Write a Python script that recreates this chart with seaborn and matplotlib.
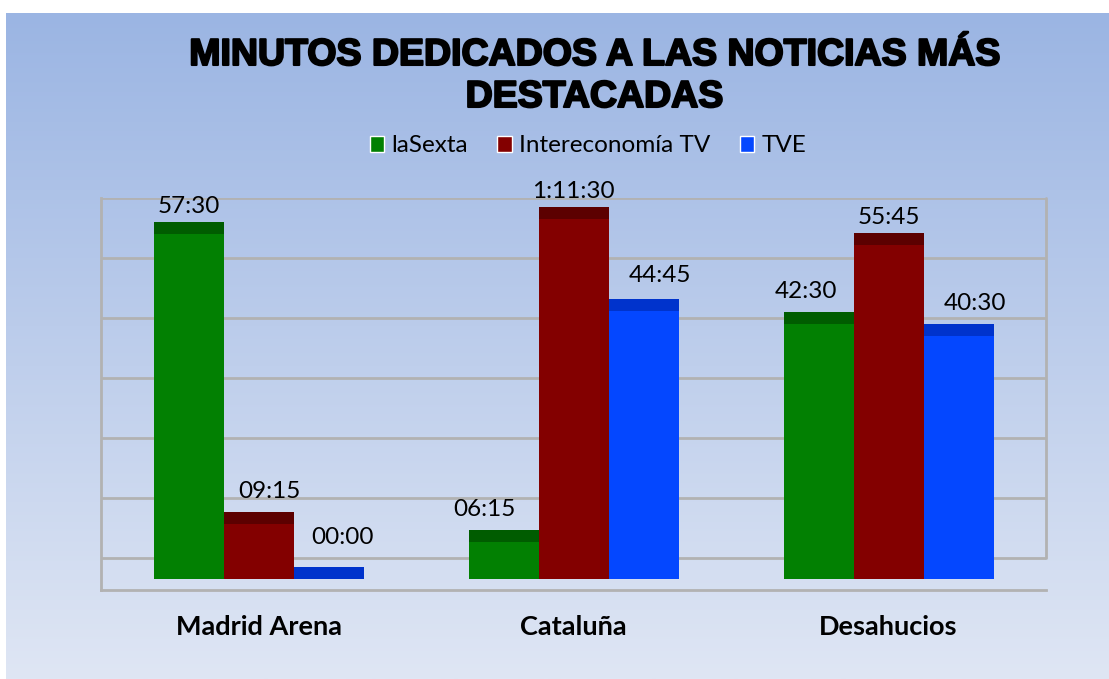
import numpy as np
import pandas as pd
import seaborn as sns
import matplotlib.pyplot as plt
import matplotlib.patheffects as pe
from matplotlib.patches import Patch

# Data: minutes per news topic and channel
categories = ["Madrid Arena", "Cataluña", "Desahucios"]
channels = ["laSexta", "Intereconomía TV", "TVE"]
lasexta = [57.5, 6.25, 42.5]
intereconomia = [9.25, 71.5, 55.75]
tve = [0.0, 44.75, 40.5]
y_max = 60  # axis max in the original chart (1:00:00); taller bars get cut

# Styles
front_colors = ["#028002", "#830000", "#0447ff"]
cap_colors = ["#005c00", "#5c0000", "#0033cc"]
cap_depth = 2.0  # 3D top face, in minutes
# label nudges (px) that mimic Excel's 3D label placement
label_dx = [[0, -19, -13], [11, 0, 0], [14, 16, 16]]
label_dy = [[5, 10, 10], [10, 5, 4], [19, 12, 10]]


def fmt(minutes):
    s = int(round(minutes * 60))
    h, rem = divmod(s, 3600)
    m, sec = divmod(rem, 60)
    if h:
        return f"{h}:{m:02d}:{sec:02d}"
    return f"{m:02d}:{sec:02d}"


series = [lasexta, intereconomia, tve]
df = pd.DataFrame({
    "categoria": categories * 3,
    "canal": np.repeat(channels, 3),
    "minutos": lasexta + intereconomia + tve,
})
df["altura"] = df["minutos"].clip(upper=y_max)

sns.set_style("white")
plt.rcParams["font.family"] = ["Lato", "DejaVu Sans"]
plt.rcParams["text.color"] = "black"
plt.rcParams["xtick.color"] = "black"

W, H = 1109, 679
fig = plt.figure(figsize=(W / 100, H / 100), dpi=100)

# gradient background
bg = fig.add_axes([6 / W, 0, 1 - 6 / W, 666 / H])
top = np.array([0x9b, 0xb5, 0xe3]) / 255
bot = np.array([0xdf, 0xe6, 0xf4]) / 255
t = np.linspace(0, 1, 256)[:, None]
grad = (top * (1 - t) + bot * t)[:, None, :]
bg.imshow(grad, aspect="auto", extent=[0, 1, 0, 1])
bg.axis("off")

ax = fig.add_axes([101 / W, 89 / H, 945 / W, 392 / H])
ax.set_facecolor("none")

sns.barplot(data=df, x="categoria", y="altura", hue="canal",
            order=categories, hue_order=channels, palette=front_colors,
            saturation=1, width=2 / 3, gap=0, errorbar=None,
            linewidth=0, legend=False, ax=ax)

for i, cont in enumerate(list(ax.containers)):
    for j, bar in enumerate(cont):
        x, w, h = bar.get_x(), bar.get_width(), bar.get_height()
        ax.bar(x, cap_depth, bottom=h, width=w, align="edge",
               color=cap_colors[i], linewidth=0)
        ax.annotate(fmt(series[i][j]), (x + w / 2, h + cap_depth),
                    xytext=(label_dx[i][j] * 0.72, label_dy[i][j] * 0.72),
                    textcoords="offset points", ha="center", va="bottom",
                    fontsize=17.5, color="black")

ax.set_xlim(-0.5, 2.5)
ax.set_ylim(-11 / 6, y_max + 3.5)
ax.set_yticks(np.arange(0, y_max + 1, 10) + 3.5)
ax.set_yticklabels([])
ax.grid(axis="y", color="#b2b2b2", lw=2)
ax.set_axisbelow(True)
for s in ["top", "right"]:
    ax.spines[s].set_visible(False)
for s in ["left", "bottom"]:
    ax.spines[s].set_color("#b2b2b2")
    ax.spines[s].set_linewidth(2)
ax.plot([2.5, 2.5], [3.5, y_max + 3.5], color="#b2b2b2", lw=2, clip_on=False)
ax.tick_params(axis="both", length=0)
ax.tick_params(axis="x", pad=18)
ax.set_xlabel("")
ax.set_ylabel("")
for lab in ax.get_xticklabels():
    lab.set_fontweight("bold")
    lab.set_fontsize(19.5)
    lab.set_color("black")

# legend
handles = [Patch(facecolor=c) for c in front_colors]
fig.legend(handles, channels, loc="center", ncol=3, frameon=False,
           bbox_to_anchor=(588 / W, 1 - 146 / H), fontsize=17.5,
           handlelength=0.6, handleheight=0.6, handletextpad=0.3,
           columnspacing=1.2)

# title
title_kw = dict(ha="center", va="center", fontsize=27, fontweight="bold",
                color="black", family=["Liberation Sans", "DejaVu Sans"],
                path_effects=[pe.withStroke(linewidth=1.5, foreground="black")])
fig.text(594.5 / W, 1 - 55 / H, "MINUTOS DEDICADOS A LAS NOTICIAS MÁS", **title_kw)
fig.text(594.5 / W, 1 - 97 / H, "DESTACADAS", **title_kw)

fig.savefig("out.png", dpi=100)
